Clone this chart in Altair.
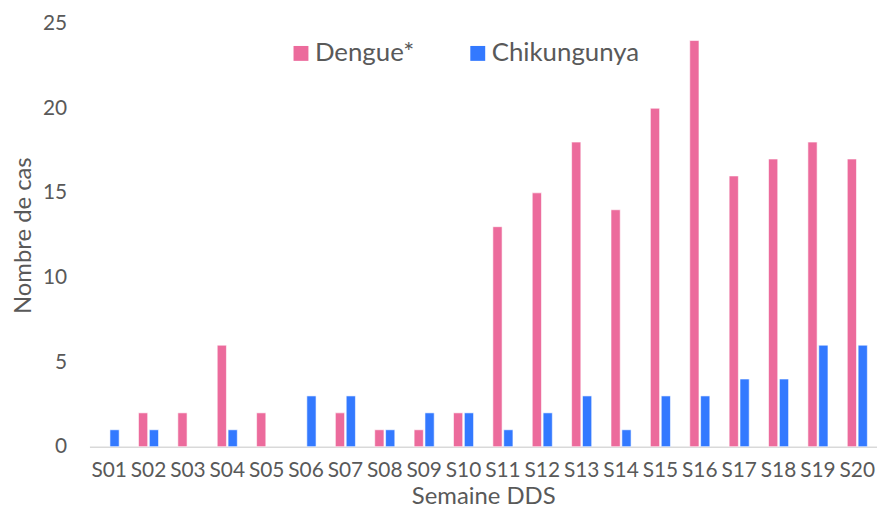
import altair as alt
import pandas as pd

weeks = [f"S{i:02d}" for i in range(1, 21)]
dengue = [0, 2, 2, 6, 2, 0, 2, 1, 1, 2, 13, 15, 18, 14, 20, 24, 16, 17, 18, 17]
chik = [1, 1, 0, 1, 0, 3, 3, 1, 2, 2, 1, 2, 3, 1, 3, 3, 4, 4, 6, 6]
series = ["Dengue*", "Chikungunya"]
colors = ["#EC6B9C", "#3379FF"]
y_ticks = [0, 5, 10, 15, 20, 25]

rows = []
for w, d, c in zip(weeks, dengue, chik):
    rows.append({"week": w, "serie": series[0], "value": d})
    rows.append({"week": w, "serie": series[1], "value": c})
df = pd.DataFrame(rows)

FONT = "Lato"
GRAY = "#595959"

chart = alt.Chart(df).transform_filter(
    alt.datum.value > 0
).mark_bar(stroke="white", strokeWidth=1, strokeOpacity=0.6).encode(
    x=alt.X("week:N", sort=weeks,
            scale=alt.Scale(domain=weeks, paddingInner=0.49, paddingOuter=0.245),
            axis=alt.Axis(title="Semaine DDS", labelAngle=0, ticks=False,
                          domainColor="#D9D9D9", domainWidth=1.5,
                          labelPadding=13, titleFontSize=24,
                          titleY=57, titleBaseline="alphabetic")),
    xOffset=alt.XOffset("serie:N", sort=series,
                        scale=alt.Scale(domain=series, paddingInner=0.15)),
    y=alt.Y("value:Q",
            scale=alt.Scale(domain=[0, 25], nice=False),
            axis=alt.Axis(title="Nombre de cas", values=y_ticks, grid=False,
                          domain=False, ticks=False, labelPadding=23,
                          titleFontSize=24, titleAngle=270, titleX=-66,
                          titleY=213, titleBaseline="middle", titleAlign="center")),
    color=alt.Color("serie:N", sort=series,
                    scale=alt.Scale(domain=series, range=colors),
                    legend=alt.Legend(title=None, orient="none", direction="horizontal",
                                      legendX=200, legendY=17,
                                      symbolType="square", symbolSize=225,
                                      symbolStrokeWidth=0, labelFontSize=26,
                                      labelOffset=1, columnPadding=51,
                                      labelColor=GRAY, labelFont=FONT)),
).properties(
    width=793, height=426,
    autosize=alt.AutoSizeParams(type="none"),
    padding={"left": 82, "top": 14, "right": 0, "bottom": 60},
).configure_view(stroke=None).configure_axis(
    labelFont=FONT, titleFont=FONT, labelFontSize=21,
    labelColor=GRAY, titleColor=GRAY, titleFontWeight="normal",
)

chart.save("out.html", embed_options={"renderer": "svg", "actions": False})
